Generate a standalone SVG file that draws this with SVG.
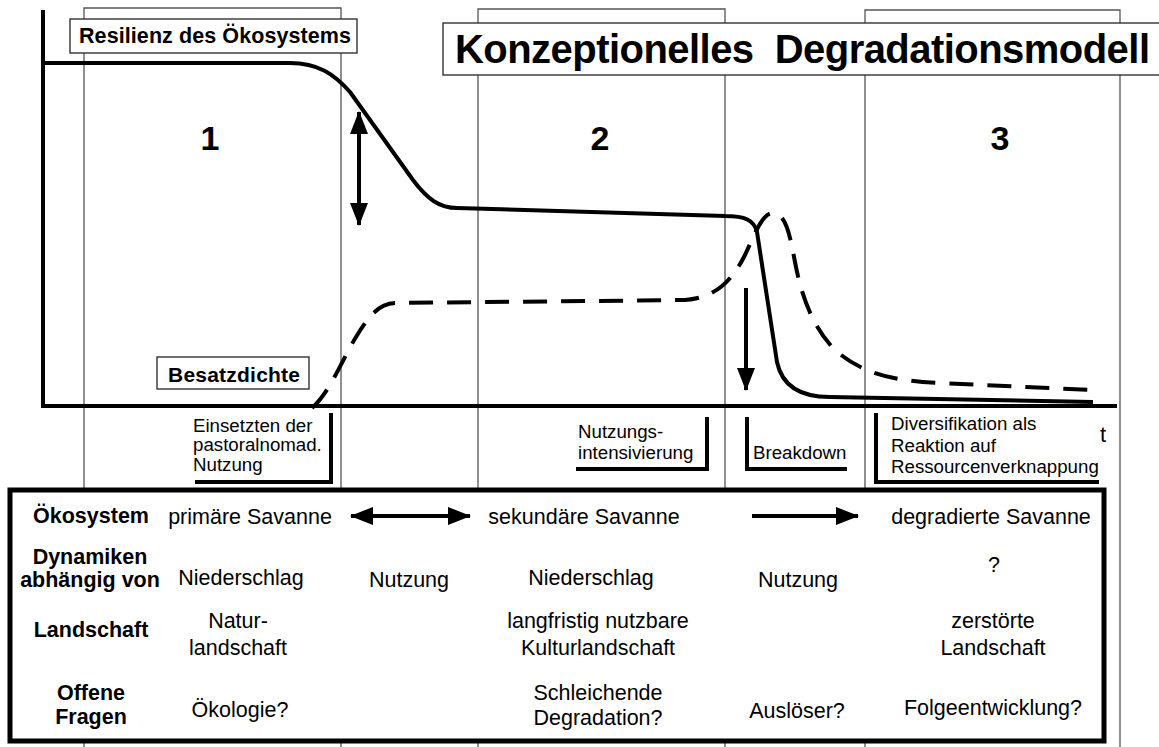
<svg xmlns="http://www.w3.org/2000/svg" width="1159" height="747" viewBox="0 0 1159 747">
  <style>
    .frame { fill: none; stroke: #555; stroke-width: 1.3; }
    .box { fill: #fff; stroke: #333; stroke-width: 1.4; }
    .axis { fill: none; stroke: #000; stroke-width: 4; }
    .curve { fill: none; stroke: #000; stroke-width: 4; stroke-linejoin: round; }
    .dash { fill: none; stroke: #000; stroke-width: 4; stroke-dasharray: 24 14; }
    .bracket { fill: none; stroke: #000; stroke-width: 4; }
    .shaft { fill: none; stroke: #000; stroke-width: 4; }
    text { font-family: "Liberation Sans", Arial, sans-serif; fill: #000; }
    .b { font-weight: bold; }
    .lbl { font-size: 18.7px; }
    .cell { font-size: 21.5px; text-anchor: middle; }
    .head { font-size: 21.5px; font-weight: bold; text-anchor: middle; }
    .num { font-size: 34px; font-weight: bold; text-anchor: middle; }
  </style>
  <defs>
    <marker id="ah" markerUnits="userSpaceOnUse" markerWidth="24" markerHeight="20" refX="22" refY="10" orient="auto-start-reverse" viewBox="0 0 24 20">
      <path d="M0,1 L23,10 L0,19 Z" fill="#000"/>
    </marker>
  </defs>

  <!-- phase frames (open at the bottom) -->
  <g id="frames">
    <path class="frame" d="M84,747 V8 H341 V747"/>
    <path class="frame" d="M478,747 V9 H725 V747"/>
    <path class="frame" d="M865,747 V10 H1120 V747"/>
  </g>

  <!-- summary table background -->
  <rect id="table-frame" x="10" y="490" width="1094" height="251" fill="#fff" stroke="#000" stroke-width="5"/>

  <!-- axes -->
  <g id="axes">
    <line class="axis" x1="43" y1="10" x2="43" y2="408"/>
    <line class="axis" x1="41" y1="406" x2="1117" y2="406"/>
    <text x="1100" y="442" font-size="22">t</text>
  </g>

  <!-- curves and arrows -->
  <g id="connectors">
    <path id="resilience" class="curve" d="M43,63 L290,63 C318,63 334,74 350,92 L413,180 C428,200 440,208 457,208 L725,216 C745,216 754,220 757,232 L777,362 C782,386 800,397 830,397 L1093,402"/>
    <path id="stocking" class="dash" d="M312,408 C330,392 342,360 356,337 C370,314 380,303 396,303 L685,300 C712,298 730,285 745,255 C755,234 762,213 773,213 C786,213 790,236 795,262 C802,300 815,330 835,350 C860,372 890,381 940,383 L1093,390"/>
    <line class="shaft" x1="359" y1="112" x2="359" y2="225" marker-start="url(#ah)" marker-end="url(#ah)"/>
    <line class="shaft" x1="746" y1="288" x2="746" y2="390" marker-end="url(#ah)"/>
    <line class="shaft" x1="351" y1="516" x2="470" y2="516" marker-start="url(#ah)" marker-end="url(#ah)"/>
    <line class="shaft" x1="752" y1="516" x2="858" y2="516" marker-end="url(#ah)"/>
  </g>

  <!-- legend labels -->
  <g id="label-resilience">
    <rect class="box" x="70" y="19" width="287" height="34"/>
    <text class="b" x="79" y="43" font-size="21.5" textLength="272">Resilienz des Ökosystems</text>
  </g>
  <g id="label-title">
    <rect class="box" x="443" y="23" width="730" height="52"/>
    <text class="b" x="455" y="63" font-size="40" textLength="695" xml:space="preserve">Konzeptionelles  Degradationsmodell</text>
  </g>
  <g id="label-density">
    <rect class="box" x="157" y="357" width="152" height="32"/>
    <text class="b" x="168" y="382" font-size="21" textLength="132">Besatzdichte</text>
  </g>

  <!-- phase numbers -->
  <g id="phase-numbers">
    <text class="num" x="210" y="150">1</text>
    <text class="num" x="600" y="150">2</text>
    <text class="num" x="1000" y="150">3</text>
  </g>

  <!-- event labels below the time axis -->
  <g id="event-start">
    <path class="bracket" d="M331,413 V482 H195"/>
    <text class="lbl" x="193" y="432">Einsetzten der</text>
    <text class="lbl" x="193" y="451">pastoralnomad.</text>
    <text class="lbl" x="193" y="471">Nutzung</text>
  </g>
  <g id="event-intensification">
    <path class="bracket" d="M707,417 V469 H576"/>
    <text class="lbl" x="578" y="438">Nutzungs-</text>
    <text class="lbl" x="578" y="459">intensivierung</text>
  </g>
  <g id="event-breakdown">
    <path class="bracket" d="M747,417 V469 H847"/>
    <text class="lbl" x="753" y="459">Breakdown</text>
  </g>
  <g id="event-diversification">
    <path class="bracket" d="M876,413 V482 H1099"/>
    <text class="lbl" x="891" y="430">Diversifikation als</text>
    <text class="lbl" x="891" y="452">Reaktion auf</text>
    <text class="lbl" x="891" y="473">Ressourcenverknappung</text>
  </g>

  <!-- summary table texts -->
  <g id="table">
    <text class="head" x="91" y="523">Ökosystem</text>
    <text class="head" x="90" y="564">Dynamiken</text>
    <text class="head" x="90" y="587">abhängig von</text>
    <text class="head" x="91" y="637">Landschaft</text>
    <text class="head" x="91" y="700">Offene</text>
    <text class="head" x="91" y="724">Fragen</text>

    <text class="cell" x="250" y="524">primäre Savanne</text>
    <text class="cell" x="584" y="524">sekundäre Savanne</text>
    <text class="cell" x="991" y="524">degradierte Savanne</text>

    <text class="cell" x="241" y="585">Niederschlag</text>
    <text class="cell" x="409" y="587">Nutzung</text>
    <text class="cell" x="591" y="585">Niederschlag</text>
    <text class="cell" x="798" y="587">Nutzung</text>
    <text class="cell" x="994" y="572" font-size="18">?</text>

    <text class="cell" x="238" y="628">Natur-</text>
    <text class="cell" x="238" y="655">landschaft</text>
    <text class="cell" x="598" y="628">langfristig nutzbare</text>
    <text class="cell" x="598" y="655">Kulturlandschaft</text>
    <text class="cell" x="993" y="628">zerstörte</text>
    <text class="cell" x="993" y="655">Landschaft</text>

    <text class="cell" x="240" y="717">Ökologie?</text>
    <text class="cell" x="598" y="700">Schleichende</text>
    <text class="cell" x="598" y="725">Degradation?</text>
    <text class="cell" x="797" y="718">Auslöser?</text>
    <text class="cell" x="993" y="715">Folgeentwicklung?</text>
  </g>
</svg>
